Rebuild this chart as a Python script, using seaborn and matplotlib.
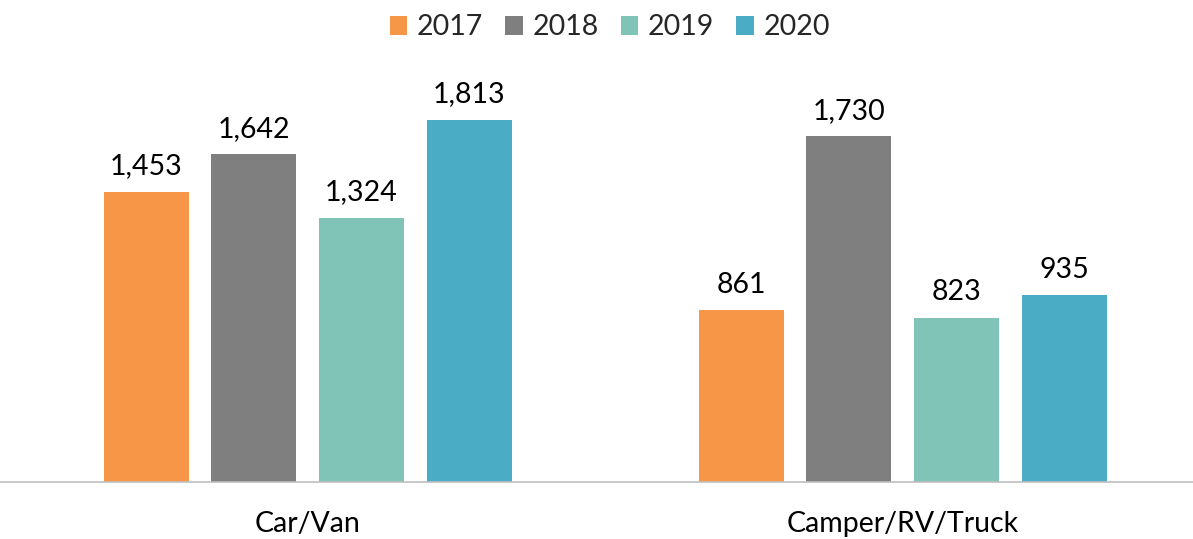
import matplotlib
matplotlib.use("Agg")
import matplotlib.pyplot as plt
import seaborn as sns
import pandas as pd

categories = ["Car/Van", "Camper/RV/Truck"]
years = ["2017", "2018", "2019", "2020"]
values_2017 = [1453, 861]
values_2018 = [1642, 1730]
values_2019 = [1324, 823]
values_2020 = [1813, 935]
colors = ["#F79646", "#7F7F7F", "#7FC4B6", "#4BACC6"]

sns.set_theme(style="white")
plt.rcParams["font.family"] = ["Lato", "DejaVu Sans"]

rows = []
for year, vals in zip(years, [values_2017, values_2018, values_2019, values_2020]):
    for cat, v in zip(categories, vals):
        rows.append({"category": cat, "year": year, "value": v})
df = pd.DataFrame(rows)

fig = plt.figure(figsize=(11.93, 5.39), dpi=100)
ax = fig.add_axes([0.0, 0.1058, 1.0, 0.741])

sns.barplot(data=df, x="category", y="value", hue="year", order=categories,
            hue_order=years, palette=colors, width=0.724, gap=0.21,
            saturation=1, edgecolor="none", ax=ax, legend=True)

ax.set_xlim(-0.517, 1.488)
ax.set_ylim(0, 2000)

for cont in ax.containers:
    ax.bar_label(cont, labels=[f"{int(b.get_height()):,}" for b in cont],
                 padding=9, fontsize=20.5, color="#000000")

for s in ["top", "right", "left"]:
    ax.spines[s].set_visible(False)
ax.spines["bottom"].set_color("#BFBFBF")
ax.spines["bottom"].set_linewidth(1.2)
ax.set_yticks([])
ax.set_xlabel("")
ax.set_ylabel("")
ax.tick_params(axis="x", length=0, pad=21, labelsize=20.5, labelcolor="#000000")

handles, labels = ax.get_legend_handles_labels()
ax.legend(handles, labels, loc="center", bbox_to_anchor=(0.511, 1.138),
          ncol=4, frameon=False, fontsize=20.5, handlelength=0.62,
          handleheight=0.62, handletextpad=0.33, columnspacing=0.78)

fig.savefig("out.png", dpi=100)
